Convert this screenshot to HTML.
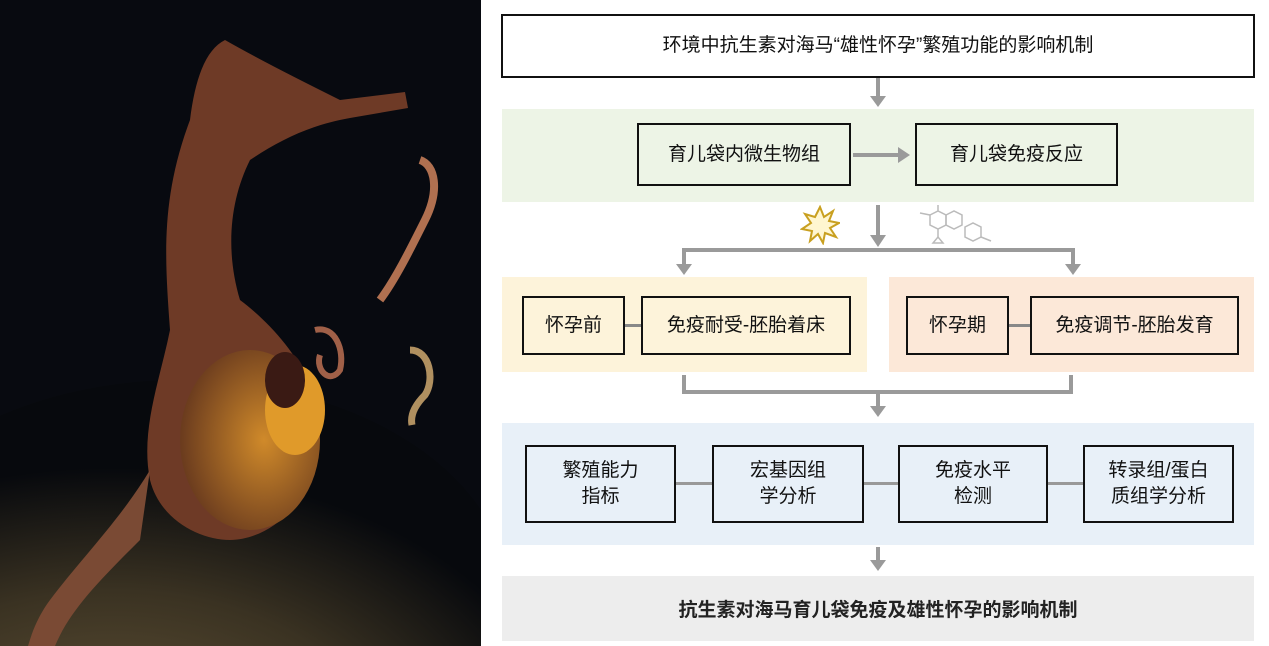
<!DOCTYPE html>
<html style="width:1269px;height:646px;overflow:hidden"><head><meta charset="utf-8"><style>
body{margin:0;width:1269px;height:646px;position:relative;background:#fff;font-family:"Liberation Sans","Noto Sans CJK SC",sans-serif;overflow:hidden}
.a{position:absolute;box-sizing:border-box}
.band{position:absolute}
.box{position:absolute;box-sizing:border-box;border:2px solid #111;display:flex;align-items:center;justify-content:center;text-align:center;font-size:19px;color:#111;line-height:26px}
.l{position:absolute;background:#9a9a9a}
</style></head><body>
<svg class="a" style="left:0;top:0;display:block" width="481" height="646" viewBox="0 0 481 646">
<defs>
<radialGradient id="cor" cx="0.4" cy="0.9" r="0.7"><stop offset="0" stop-color="#6b5a3a"/><stop offset="0.6" stop-color="#3a3222"/><stop offset="1" stop-color="#07090d"/></radialGradient>
<radialGradient id="bel" cx="0.6" cy="0.5" r="0.6"><stop offset="0" stop-color="#d08a2a"/><stop offset="1" stop-color="#6a3b1e"/></radialGradient>
</defs>
<rect width="481" height="646" fill="#080a10"/>
<ellipse cx="180" cy="600" rx="330" ry="220" fill="url(#cor)"/>
<path d="M225 40 C260 60 300 80 340 100 L405 92 L408 108 L350 118 C310 125 280 140 250 160 C230 200 225 250 240 300 C280 330 320 380 320 430 C320 500 270 540 230 540 C200 540 160 520 150 480 C140 430 160 380 170 330 C165 260 160 200 190 120 C195 80 205 50 225 40Z" fill="#6e3a26"/>
<ellipse cx="250" cy="440" rx="70" ry="90" fill="url(#bel)"/>
<ellipse cx="295" cy="410" rx="30" ry="45" fill="#e09a2a"/>
<ellipse cx="285" cy="380" rx="20" ry="28" fill="#3a1a14"/>
<path d="M150 470 C120 520 80 560 50 600 C35 620 30 640 28 646 L55 646 C70 610 100 580 140 540Z" fill="#7a4a34"/>
<path d="M420 160 C435 165 440 190 425 220 C410 250 395 280 380 300" stroke="#b07050" stroke-width="8" fill="none"/>
<path d="M315 330 C335 325 345 350 340 370 C330 385 315 370 320 355" stroke="#a06048" stroke-width="6" fill="none"/>
<path d="M410 350 C430 350 435 380 425 395 C415 405 410 415 412 425" stroke="#b09060" stroke-width="7" fill="none"/>
</svg>

<div class="box" style="left:501px;top:14px;width:754px;height:64px;border-width:2px">环境中抗生素对海马“雄性怀孕”繁殖功能的影响机制</div>
<div class="l" style="left:876px;top:78px;width:4px;height:20px"></div>
<div class="a" style="left:870px;top:96px;border-left:8px solid transparent;border-right:8px solid transparent;border-top:11px solid #9a9a9a"></div>

<div class="band" style="left:502px;top:109px;width:752px;height:93px;background:#edf4e6"></div>
<div class="box" style="left:637px;top:123px;width:214px;height:63px">育儿袋内微生物组</div>
<div class="box" style="left:915px;top:123px;width:203px;height:63px">育儿袋免疫反应</div>
<div class="l" style="left:853px;top:153px;width:48px;height:4px"></div>
<div class="a" style="left:898px;top:147px;border-top:8px solid transparent;border-bottom:8px solid transparent;border-left:12px solid #9a9a9a"></div>

<div class="l" style="left:876px;top:205px;width:4px;height:30px"></div>
<div class="a" style="left:870px;top:235px;border-left:8px solid transparent;border-right:8px solid transparent;border-top:12px solid #9a9a9a"></div>
<svg class="a" style="left:800px;top:205px" width="40" height="40"><polygon points="20,2 24,12 33,6 29,16 39,18 30,23 36,32 25,28 23,38 18,29 10,36 12,26 2,24 11,18 5,9 15,12" fill="#fff6d0" stroke="#c9a020" stroke-width="2"/></svg>
<svg class="a" style="left:905px;top:203px" width="90" height="45" stroke="#bbb" fill="none" stroke-width="1.5"><polygon points="25,12 33,8 41,12 41,22 33,26 25,22"/><polygon points="41,12 49,8 57,12 57,22 49,26 41,22"/><line x1="33" y1="8" x2="33" y2="2"/><line x1="25" y1="12" x2="15" y2="10"/><line x1="33" y1="26" x2="33" y2="34"/><polygon points="28,40 38,40 33,34"/><polygon points="60,24 68,20 76,24 76,34 68,38 60,34"/><line x1="76" y1="34" x2="86" y2="38"/></svg>
<div class="l" style="left:682px;top:248px;width:393px;height:4px"></div>
<div class="l" style="left:682px;top:248px;width:4px;height:18px"></div>
<div class="l" style="left:1071px;top:248px;width:4px;height:18px"></div>
<div class="a" style="left:676px;top:264px;border-left:8px solid transparent;border-right:8px solid transparent;border-top:11px solid #9a9a9a"></div>
<div class="a" style="left:1065px;top:264px;border-left:8px solid transparent;border-right:8px solid transparent;border-top:11px solid #9a9a9a"></div>

<div class="band" style="left:502px;top:277px;width:365px;height:95px;background:#fdf3da"></div>
<div class="band" style="left:889px;top:277px;width:365px;height:95px;background:#fce8d8"></div>
<div class="box" style="left:522px;top:296px;width:103px;height:59px">怀孕前</div>
<div class="box" style="left:641px;top:296px;width:210px;height:59px">免疫耐受-胚胎着床</div>
<div class="l" style="left:625px;top:324px;width:16px;height:3px;background:#888"></div>
<div class="box" style="left:906px;top:296px;width:103px;height:59px">怀孕期</div>
<div class="box" style="left:1030px;top:296px;width:209px;height:59px">免疫调节-胚胎发育</div>
<div class="l" style="left:1009px;top:324px;width:21px;height:3px;background:#888"></div>

<div class="l" style="left:682px;top:375px;width:4px;height:19px"></div>
<div class="l" style="left:1069px;top:375px;width:4px;height:19px"></div>
<div class="l" style="left:682px;top:390px;width:391px;height:4px"></div>
<div class="l" style="left:876px;top:394px;width:4px;height:14px"></div>
<div class="a" style="left:870px;top:406px;border-left:8px solid transparent;border-right:8px solid transparent;border-top:11px solid #9a9a9a"></div>

<div class="band" style="left:502px;top:423px;width:752px;height:122px;background:#e8f0f8"></div>
<div class="box" style="left:525px;top:445px;width:151px;height:78px">繁殖能力<br>指标</div>
<div class="box" style="left:712px;top:445px;width:152px;height:78px">宏基因组<br>学分析</div>
<div class="box" style="left:898px;top:445px;width:150px;height:78px">免疫水平<br>检测</div>
<div class="box" style="left:1083px;top:445px;width:151px;height:78px">转录组/蛋白<br>质组学分析</div>
<div class="l" style="left:676px;top:482px;width:36px;height:3px;background:#999"></div>
<div class="l" style="left:864px;top:482px;width:34px;height:3px;background:#999"></div>
<div class="l" style="left:1048px;top:482px;width:35px;height:3px;background:#999"></div>

<div class="l" style="left:876px;top:547px;width:4px;height:14px"></div>
<div class="a" style="left:870px;top:560px;border-left:8px solid transparent;border-right:8px solid transparent;border-top:11px solid #9a9a9a"></div>

<div class="band" style="left:502px;top:576px;width:752px;height:65px;background:#ededed;display:flex;align-items:center;justify-content:center;font-size:19px;font-weight:bold;color:#222">抗生素对海马育儿袋免疫及雄性怀孕的影响机制</div>
</body></html>
